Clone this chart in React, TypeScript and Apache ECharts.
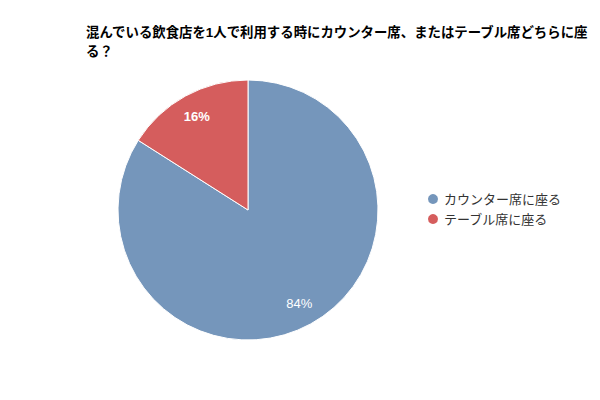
import React, { useEffect, useRef } from "react";
import * as echarts from "echarts";

const titleText = "混んでいる飲食店を1人で利用する時にカウンター席、またはテーブル席どちらに座る？";
const categories = ["カウンター席に座る", "テーブル席に座る"];
const values = [84, 16];
const colors = ["#7596bb", "#d55d5d"];

export default function App() {
  const ref = useRef<HTMLDivElement>(null);
  useEffect(() => {
    if (!ref.current) return;
    const chart = echarts.init(ref.current, undefined, { renderer: "svg" });
    const font = "'Liberation Sans', 'Noto Sans CJK JP', sans-serif";
    chart.setOption({
      animation: false,
      title: {
        text: titleText,
        left: 73,
        top: 10,
        textStyle: {
          fontSize: 13.4,
          fontWeight: "bold",
          color: "#000",
          fontFamily: font,
          width: 505,
          overflow: "break",
          lineHeight: 19,
        },
      },
      legend: {
        orient: "vertical",
        left: 413,
        top: 179,
        icon: "circle",
        itemWidth: 12,
        itemHeight: 12,
        itemGap: 6,
        textStyle: { fontSize: 13, color: "#333", fontFamily: font },
        data: categories.map((c, i) => ({ name: c, itemStyle: { color: colors[i] } })),
      },
      series: [
        {
          type: "pie",
          center: [240, 202],
          radius: [0, 130],
          startAngle: 90,
          clockwise: true,
          label: { show: false },
          labelLine: { show: false },
          itemStyle: { borderColor: "#fff", borderWidth: 1 },
          silent: true,
          data: categories.map((c, i) => ({ name: c, value: values[i], itemStyle: { color: colors[i] } })),
        },
        {
          type: "pie",
          center: [240, 202],
          radius: [77, 130],
          startAngle: 90,
          clockwise: true,
          silent: true,
          legendHoverLink: false,
          itemStyle: { color: "rgba(0,0,0,0)" },
          labelLine: { show: false },
          label: {
            show: true,
            position: "inside",
            formatter: "{c}%",
            color: "#fff",
            fontSize: 13,
            fontFamily: font,
          },
          data: categories.map((c, i) => ({
            name: c,
            value: values[i],
            label: { fontWeight: i === 1 ? "bold" : "normal" },
          })),
        },
      ],
    });
    return () => chart.dispose();
  }, []);
  return <div ref={ref} style={{ width: 600, height: 400 }} />;
}
